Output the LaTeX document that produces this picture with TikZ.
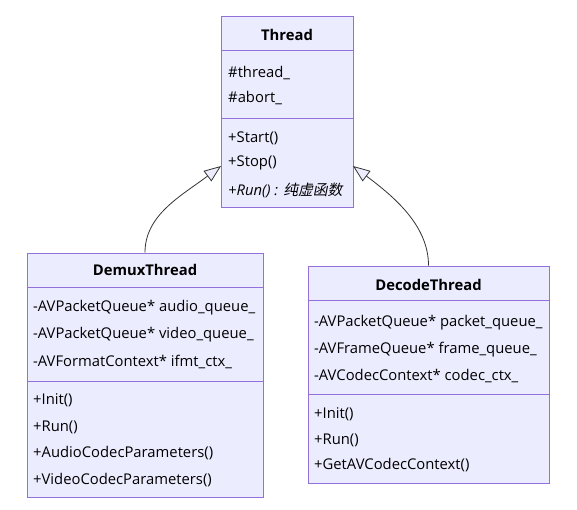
\documentclass[tikz,border=0pt]{standalone}
\usepackage{fontspec}
\setmainfont{Open Sans}
\newfontfamily\cjk[FakeSlant=0.2]{Noto Sans CJK SC}
\usepackage{tikz}
\usetikzlibrary{arrows.meta}
\definecolor{ClassFill}{HTML}{ECECFF}
\definecolor{ClassLine}{HTML}{9370DB}
\definecolor{ClassText}{HTML}{333333}

\begin{document}
\begin{tikzpicture}[x=1pt, y=-1pt,
        cls/.style={draw=ClassLine, fill=ClassFill, line width=1pt, inner sep=0pt},
        title/.style={font=\fontsize{14.8}{17}\selectfont\bfseries, text=black, inner sep=0pt},
        member/.style={font=\fontsize{14.8}{17}\selectfont, text=black, anchor=west, inner sep=0pt},
        sep/.style={draw=ClassLine, line width=1pt},
        inherit/.style={draw=ClassText, line width=0.8pt,
                        -{Triangle[open, fill=ClassFill, length=17pt, width=13pt]}}
]
    \useasboundingbox (0,0) rectangle (577,509);
    % base class
    \node[cls, minimum width=132pt, minimum height=191pt] (thread) at (287,111.5) {};
    \draw[sep] (221,50) -- (353,50);
    \draw[sep] (221,118) -- (353,118);
    \node[title]  (threadT)  at (287,35)  {Thread};
    \node[member] (threadA1) at (228,73)  {\#thread\_};
    \node[member] (threadA2) at (228,98)  {\#abort\_};
    \node[member] (threadM1) at (228,138) {+Start()};
    \node[member] (threadM2) at (228,163) {+Stop()};
    \node[member] (threadM3) at (228,190) {\itshape +Run() : {\cjk 纯虚函数}};
    \coordinate (threadL) at (221,166);
    \coordinate (threadR) at (353,166);
    % demux
    \node[cls, minimum width=236pt, minimum height=244pt] (demux) at (145,375) {};
    \draw[sep] (27,287) -- (263,287);
    \draw[sep] (27,381) -- (263,381);
    \node[title]  (demuxT)  at (145,270) {DemuxThread};
    \node[member] (demuxA1) at (33,308)  {-AVPacketQueue* audio\_queue\_};
    \node[member] (demuxA2) at (33,335)  {-AVPacketQueue* video\_queue\_};
    \node[member] (demuxA3) at (33,362)  {-AVFormatContext* ifmt\_ctx\_};
    \node[member] (demuxM1) at (33,400)  {+Init()};
    \node[member] (demuxM2) at (33,427)  {+Run()};
    \node[member] (demuxM3) at (33,453)  {+AudioCodecParameters()};
    \node[member] (demuxM4) at (33,480)  {+VideoCodecParameters()};
    % decode
    \node[cls, minimum width=241pt, minimum height=217pt] (decode) at (428.5,374.5) {};
    \draw[sep] (308,300) -- (549,300);
    \draw[sep] (308,394) -- (549,394);
    \node[title]  (decodeT)  at (428.5,285) {DecodeThread};
    \node[member] (decodeA1) at (314,323)   {-AVPacketQueue* packet\_queue\_};
    \node[member] (decodeA2) at (314,350)   {-AVFrameQueue* frame\_queue\_};
    \node[member] (decodeA3) at (314,376)   {-AVCodecContext* codec\_ctx\_};
    \node[member] (decodeM1) at (314,414)   {+Init()};
    \node[member] (decodeM2) at (314,440)   {+Run()};
    \node[member] (decodeM3) at (314,465)   {+GetAVCodecContext()};
    % inheritance
    \draw[inherit] (demux.north) .. controls (145,215) and (181,196) .. (threadL);
    \draw[inherit] (decode.north) .. controls (428.5,225) and (393,196) .. (threadR);
\end{tikzpicture}
\end{document}
